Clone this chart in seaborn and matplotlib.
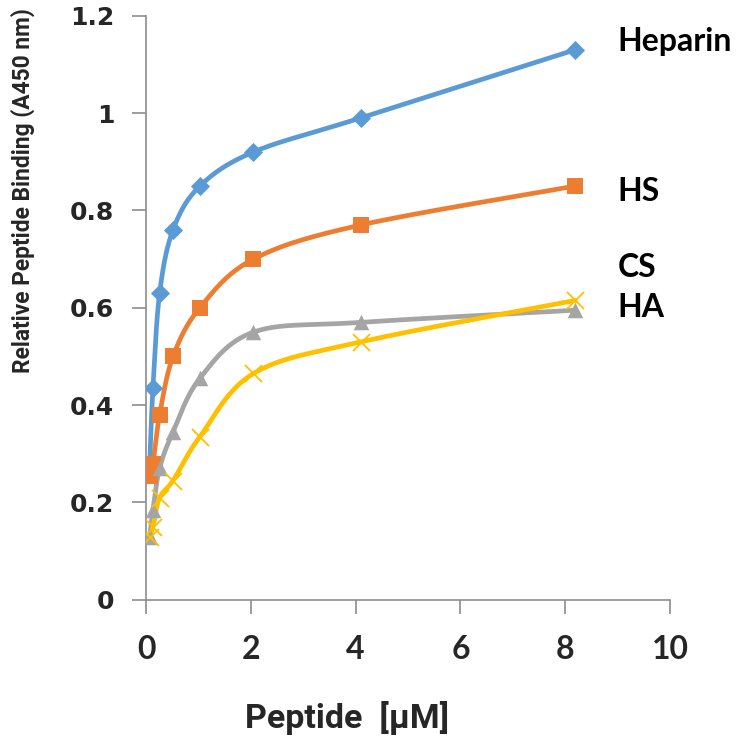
import numpy as np
import pandas as pd
import matplotlib
matplotlib.use("Agg")
import matplotlib.pyplot as plt
import seaborn as sns

# peptide concentrations (uM), two-fold dilutions
peptide = [0.064, 0.128, 0.256, 0.512, 1.024, 2.048, 4.096, 8.192]

heparin = [0.27, 0.435, 0.63, 0.76, 0.85, 0.92, 0.99, 1.13]
hs = [0.255, 0.28, 0.38, 0.50, 0.60, 0.70, 0.77, 0.85]
cs = [0.13, 0.185, 0.27, 0.345, 0.455, 0.55, 0.57, 0.595]
ha = [0.13, 0.15, 0.21, 0.245, 0.335, 0.465, 0.53, 0.615]

series_names = ["Heparin", "HS", "CS", "HA"]
series_vals = [heparin, hs, cs, ha]
colors = ["#5B9BD5", "#ED7D31", "#A5A5A5", "#FFC000"]
markers = ["D", "s", "^", "x"]
marker_sizes = [95, 125, 125, 150]

# curve labels at right of plot
label_text = ["Heparin", "HS", "CS", "HA"]
label_y = [1.146, 0.838, 0.682, 0.600]

sns.set_theme(style="white")
plt.rcParams["font.family"] = ["Liberation Sans", "DejaVu Sans"]


def smooth(xs, ys, sx=52.4, sy=486.7, n=30):
    # Bezier smoothing in pixel-like space (like Excel "smoothed line")
    P = np.column_stack([np.array(xs) * sx, np.array(ys) * sy])
    P = np.vstack([P[0], P, P[-1]])
    out = []
    for i in range(1, len(P) - 2):
        p0, p1, p2, p3 = P[i - 1], P[i], P[i + 1], P[i + 2]
        c1 = p1 + (p2 - p0) / 6.0
        c2 = p2 - (p3 - p1) / 6.0
        t = np.linspace(0, 1, n)[:, None]
        b = (1 - t) ** 3 * p1 + 3 * (1 - t) ** 2 * t * c1 + 3 * (1 - t) * t ** 2 * c2 + t ** 3 * p2
        out.append(b if i == 1 else b[1:])
    out = np.vstack(out)
    return out[:, 0] / sx, out[:, 1] / sy


fig = plt.figure(figsize=(7.46, 7.47), dpi=100)
ax = fig.add_axes([0.196, 0.197, 0.702, 0.782])

for name, vals, col, mk, ms in zip(series_names, series_vals, colors, markers, marker_sizes):
    cx, cy = smooth(peptide, vals)
    df_line = pd.DataFrame({"x": cx, "y": cy})
    sns.lineplot(data=df_line, x="x", y="y", sort=False, estimator=None, color=col,
                 linewidth=3.4, ax=ax, zorder=2)
    df_pts = pd.DataFrame({"x": peptide, "y": vals})
    if mk == "x":
        sns.scatterplot(data=df_pts, x="x", y="y", marker="x", color=col, s=ms,
                        linewidth=1.3, ax=ax, zorder=3)
    else:
        sns.scatterplot(data=df_pts, x="x", y="y", marker=mk, color=col, s=ms,
                        edgecolor=col, linewidth=0, ax=ax, zorder=3)

for txt, yy in zip(label_text, label_y):
    ax.text(9.0, yy, txt, fontsize=23, fontweight="bold", va="center", ha="left",
            family=["Lato", "DejaVu Sans"], color="black", clip_on=False)

ax.set_xlim(0, 10)
ax.set_ylim(0, 1.2)
ax.set_xticks([0, 2, 4, 6, 8, 10])
ax.set_yticks([0, 0.2, 0.4, 0.6, 0.8, 1.0, 1.2])
ax.set_xticklabels(["0", "2", "4", "6", "8", "10"], fontsize=23, fontweight="bold",
                   family=["Lato", "DejaVu Sans"])
ax.set_yticklabels(["0", "0.2", "0.4", "0.6", "0.8", "1", "1.2"], fontsize=18,
                   fontweight="bold", family="DejaVu Sans")
for sp in ["top", "right"]:
    ax.spines[sp].set_visible(False)
for sp in ["left", "bottom"]:
    ax.spines[sp].set_color("#8C8C8C")
    ax.spines[sp].set_linewidth(1.2)
ax.tick_params(axis="both", direction="out", length=10, width=1.2, color="#8C8C8C",
               bottom=True, left=True)
ax.tick_params(axis="x", pad=15)
ax.tick_params(axis="y", pad=13)

ax.set_xlabel("")
ax.set_ylabel("")
xlab = fig.text(0.465, 0.039, "Peptide  [µM]", fontsize=26, fontweight="bold",
                ha="center", va="center", family=["Roboto", "Liberation Sans"])
ylab = fig.text(0.031, 0.745, "Relative Peptide Binding (A450 nm)", fontsize=20,
                fontweight="bold", rotation=90, ha="center", va="center",
                family=["Roboto", "Liberation Sans"])

# fit the axis titles to the reference lengths
fig.canvas.draw()
h = ylab.get_window_extent().height
ylab.set_fontsize(20 * 365.0 / h)
w = xlab.get_window_extent().width
xlab.set_fontsize(26 * 204.0 / w)

fig.savefig("out.png", dpi=100)
